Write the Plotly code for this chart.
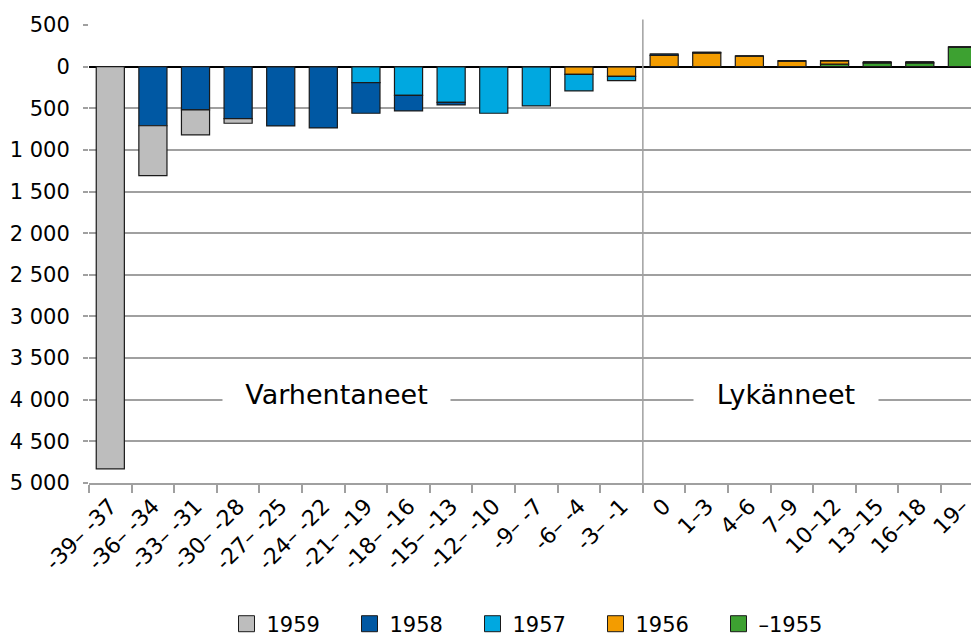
import plotly.graph_objects as go

# categories: difference in birth year groups
categories = ["-39– -37", "-36– -34", "-33– -31", "-30– -28", "-27– -25", "-24– -22",
              "-21– -19", "-18– -16", "-15– -13", "-12– -10", "-9– -7", "-6– -4",
              "-3– -1", "0", "1–3", "4–6", "7–9", "10–12", "13–15", "16–18", "19–"]

# series values
v1959 = [-4830, -600, -300, -55, 0, 0, 0, 0, 0, 0, 0, 0, 0,
         0, 0, 0, 0, 0, 0, 0, 0]
v1958 = [0, -710, -520, -625, -712, -736, -368, -188, -32, 0, 0, 0, 0,
         18, 6, 0, 0, 0, 0, 0, 0]
v1957 = [0, 0, 0, 0, 0, 0, -192, -344, -428, -560, -472, -200, -52,
         0, 0, 0, 0, 0, 0, 0, 0]
v1956 = [0, 0, 0, 0, 0, 0, 0, 0, 0, 0, 0, -92, -116,
         134, 166, 128, 68, 42, 10, 10, 0]
v1955 = [0, 0, 0, 0, 0, 0, 0, 0, 0, 0, 0, 0, 0,
         0, 0, 0, 0, 30, 44, 44, 236]

y_ticks = [500, 0, -500, -1000, -1500, -2000, -2500, -3000, -3500, -4000, -4500, -5000]
y_ticktext = ["500", "0", "500", "1 000", "1 500", "2 000", "2 500", "3 000",
              "3 500", "4 000", "4 500", "5 000"]

FONT = "DejaVu Sans"
EDGE = "#1a1a1a"

# stacking order: first trace is nearest zero
series = [
    ("–1955", v1955, "#3DA131"),
    ("1956", v1956, "#F39C00"),
    ("1957", v1957, "#00A8E0"),
    ("1958", v1958, "#0058A3"),
    ("1959", v1959, "#BDBDBD"),
]

fig = go.Figure()
for name, vals, col in series:
    fig.add_trace(go.Bar(
        x=categories, y=vals, name=name, width=0.66, showlegend=False,
        legendgroup=name,
        marker=dict(color=col, line=dict(color=EDGE, width=1.2)),
    ))

# legend entries with larger square swatches (1959 first)
for name, vals, col in reversed(series):
    fig.add_trace(go.Scatter(
        x=[None], y=[None], mode="markers", name=name, legendgroup=name,
        marker=dict(symbol="square", size=16, color=col, line=dict(color=EDGE, width=1)),
    ))

# page body has an 8px margin, so the margins are shifted to compensate
fig.update_layout(
    width=979, height=637,
    barmode="relative",
    plot_bgcolor="white", paper_bgcolor="white",
    margin=dict(l=81, r=8, t=17, b=162, autoexpand=False),
    font=dict(family=FONT, size=21, color="black"),
    showlegend=True,
    legend=dict(orientation="h", traceorder="normal", itemsizing="trace",
                x=0.5, xanchor="center", y=-0.308, yanchor="middle",
                font=dict(family=FONT, size=21, color="black"),
                entrywidth=78, itemwidth=30),
)

fig.update_xaxes(
    type="category", range=[-0.5, 20.39], automargin=False,
    tickangle=-45, tickfont=dict(family=FONT, size=22),
    showgrid=False, showline=True, linecolor="#a0a0a0", linewidth=1.5,
    ticks="outside", tickson="boundaries", ticklen=8, tickcolor="#a0a0a0",
    tickwidth=1.5,
)

fig.update_yaxes(
    range=[-5000, 500], tickvals=y_ticks, ticktext=y_ticktext, automargin=False,
    showgrid=True, gridcolor="#a0a0a0", gridwidth=1.5,
    zeroline=True, zerolinecolor="black", zerolinewidth=1.5,
    ticks="outside", ticklen=5, tickcolor="#a0a0a0", tickwidth=1.5,
    ticklabelstandoff=9,
    tickfont=dict(family=FONT, size=21),
)

# divider between earlier and later groups
fig.add_shape(type="line", xref="x", yref="paper", x0=12.5, x1=12.5, y0=0, y1=1.012,
              line=dict(color="#a0a0a0", width=1.5))

fig.add_annotation(x=5.3, y=-3930, xref="x", yref="y", text="Varhentaneet",
                   showarrow=False, bgcolor="white", width=225, height=36,
                   font=dict(family=FONT, size=27, color="black"))
fig.add_annotation(x=15.87, y=-3930, xref="x", yref="y", text="Lykänneet",
                   showarrow=False, bgcolor="white", width=182, height=36,
                   font=dict(family=FONT, size=27, color="black"))

fig.write_html("out.html")
